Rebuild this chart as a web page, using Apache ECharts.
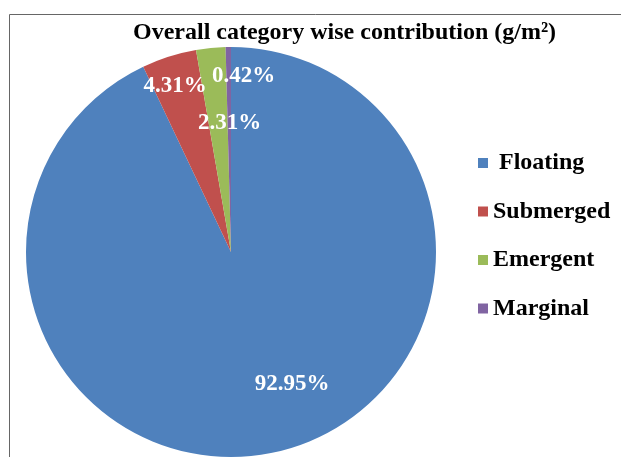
<!DOCTYPE html>
<html>
<head>
<meta charset="utf-8">
<script src="https://cdn.jsdelivr.net/npm/echarts@6/dist/echarts.min.js"></script>
<style>
  html, body { margin: 0; padding: 0; background: #fff; }
  #chart { width: 621px; height: 457px; }
</style>
</head>
<body>
<div id="chart"></div>
<script>
// category wise contribution, percent
const categories = ['Floating', 'Submerged', 'Emergent', 'Marginal'];
const shares = [92.95, 4.31, 2.31, 0.42];
const colors = ['#4F81BD', '#C0504D', '#9BBB59', '#8064A2'];
// nudges from the default inside label spot, to match the original placement
const labelNudge = [[38, 29], [-24, -65], [9, -24], [14, -70]];

const chart = echarts.init(document.getElementById('chart'));
const serif = '"Liberation Serif", "Times New Roman", serif';

chart.setOption({
  animation: false,
  title: {
    text: 'Overall category wise contribution (g/m²)',
    left: 133,
    top: 21,
    padding: 0,
    textStyle: { fontFamily: serif, fontSize: 24, fontWeight: 'bold', color: '#000' }
  },
  legend: {
    orient: 'vertical',
    left: 473,
    top: 146,
    itemWidth: 10,
    itemHeight: 10,
    itemGap: 24.5,
    icon: 'rect',
    data: categories,
    formatter: (n) => (n === 'Floating' ? ' ' + n : n),
    textStyle: { fontFamily: serif, fontSize: 24, fontWeight: 'bold', color: '#000' }
  },
  graphic: [{
    type: 'polyline',
    shape: { points: [[9.5, 460], [9.5, 14.5], [625, 14.5]] },
    style: { stroke: '#666', lineWidth: 1, fill: null },
    silent: true
  }],
  series: [{
    type: 'pie',
    center: [231, 252],
    radius: 205,
    startAngle: 90,
    clockwise: true,
    avoidLabelOverlap: false,
    label: {
      show: true,
      position: 'inside',
      formatter: (p) => p.value.toFixed(2) + '%',
      fontFamily: serif,
      fontSize: 23,
      fontWeight: 'bold',
      color: '#fff'
    },
    labelLine: { show: false },
    labelLayout: (p) => ({ dx: labelNudge[p.dataIndex][0], dy: labelNudge[p.dataIndex][1] }),
    itemStyle: { borderWidth: 0 },
    emphasis: { disabled: true },
    data: categories.map((c, i) => ({ name: c, value: shares[i], itemStyle: { color: colors[i] } }))
  }]
});
</script>
</body>
</html>
